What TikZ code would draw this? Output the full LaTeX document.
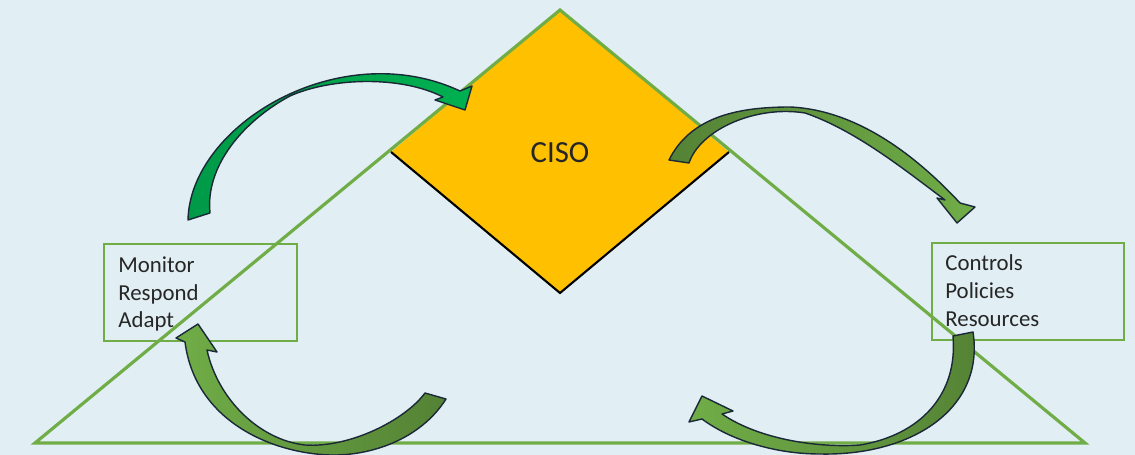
\documentclass[tikz,border=0pt]{standalone}
\usepackage{fontspec}
\setmainfont{Carlito}
\definecolor{bgblue}{HTML}{E1EEF3}
\definecolor{leaf}{HTML}{70AD47}
\definecolor{moss}{HTML}{548235}
\definecolor{emerald}{HTML}{00B050}
\definecolor{emeralddk}{HTML}{009A48}
\definecolor{amber}{HTML}{FFC000}
\definecolor{inkline}{HTML}{1B2838}
\definecolor{txt}{HTML}{262626}
\begin{document}
\begin{tikzpicture}[x=0.02cm,y=-0.02cm,
  frame/.style={draw=leaf,line width=1pt},
  label/.style={anchor=base west,inner sep=0pt,text=txt,font=\fontsize{13}{16}\selectfont},
  bandarrow/.style={draw=inkline,line width=0.8pt,line join=round}]
% canvas
\fill[bgblue] (0,0) rectangle (1135,455);
\useasboundingbox (0,0) rectangle (1135,455);

% corner points
\coordinate (apex) at (560,10);
\coordinate (dl) at (391,152);
\coordinate (dr) at (729,152);
\coordinate (db) at (560,293);
\coordinate (tl) at (35,443);
\coordinate (tr) at (1085,443);

% diamond
\fill[amber] (apex) -- (dl) -- (db) -- (dr) -- cycle;
\draw[black,line width=1.2pt,line join=miter] (dl) -- (db) -- (dr);
\node[anchor=base,inner sep=0pt,text=txt,font=\fontsize{17.5}{20}\selectfont] (ciso) at (560,163) {CISO};

% triangle
\draw[leaf,line width=1.8pt,line join=miter] (apex) -- (tl) -- (tr) -- cycle;

% side boxes
\node[frame,minimum width=193*0.02cm,minimum height=97*0.02cm,inner sep=0pt] (lbox) at (200.5,292.5) {};
\node[frame,minimum width=192*0.02cm,minimum height=97*0.02cm,inner sep=0pt] (rbox) at (1028,291.5) {};
\node[label] (mon) at (118,273) {Monitor};
\node[label] (res) at (118,300.5) {Respond};
\node[label] (ada) at (118,328) {Adapt};
\node[label] (con) at (945,271) {Controls};
\node[label] (pol) at (945,299) {Policies};
\node[label] (rsc) at (945,327) {Resources};

% arrow: monitor -> CISO
\path[bandarrow,left color=emeralddk,right color=emerald]
  (210,213) -- (188,220)
  .. controls (190,125) and (340,35) .. (460,91)
  -- (472,86) -- (465,110) -- (435,100) -- (443,97)
  .. controls (400,75) and (330,78) .. (290,96)
  .. controls (245,120) and (205,165) .. (210,213)
  -- cycle;

% arrow: CISO -> controls
\path[bandarrow,left color=moss,right color=leaf]
  (669,160)
  .. controls (690,118) and (735,107) .. (790,107)
  .. controls (860,110) and (920,160) .. (960,203)
  -- (975,207) -- (957,223) -- (937,198) -- (945,200)
  .. controls (905,170) and (855,130) .. (805,113)
  .. controls (755,105) and (700,130) .. (689,163)
  -- cycle;

% arrow: resources -> bottom
\path[bandarrow,left color=leaf,right color=moss]
  (953,336) -- (973,332)
  .. controls (985,410) and (910,456) .. (820,454)
  .. controls (775,454) and (730,440) .. (702,419)
  -- (689,422) -- (702,396) -- (733,411) -- (722,414)
  .. controls (760,440) and (820,448) .. (860,445)
  .. controls (920,435) and (958,395) .. (953,336)
  -- cycle;

% arrow: bottom -> adapt
\path[bandarrow,left color=leaf,right color=moss]
  (185,342) -- (176,338) -- (198,324) -- (217,352) -- (207,350)
  .. controls (218,400) and (260,440) .. (305,445)
  .. controls (350,448) and (405,420) .. (425,393)
  -- (446,399)
  .. controls (420,440) and (370,456) .. (330,455)
  .. controls (270,453) and (195,420) .. (185,342)
  -- cycle;
\end{tikzpicture}
\end{document}
